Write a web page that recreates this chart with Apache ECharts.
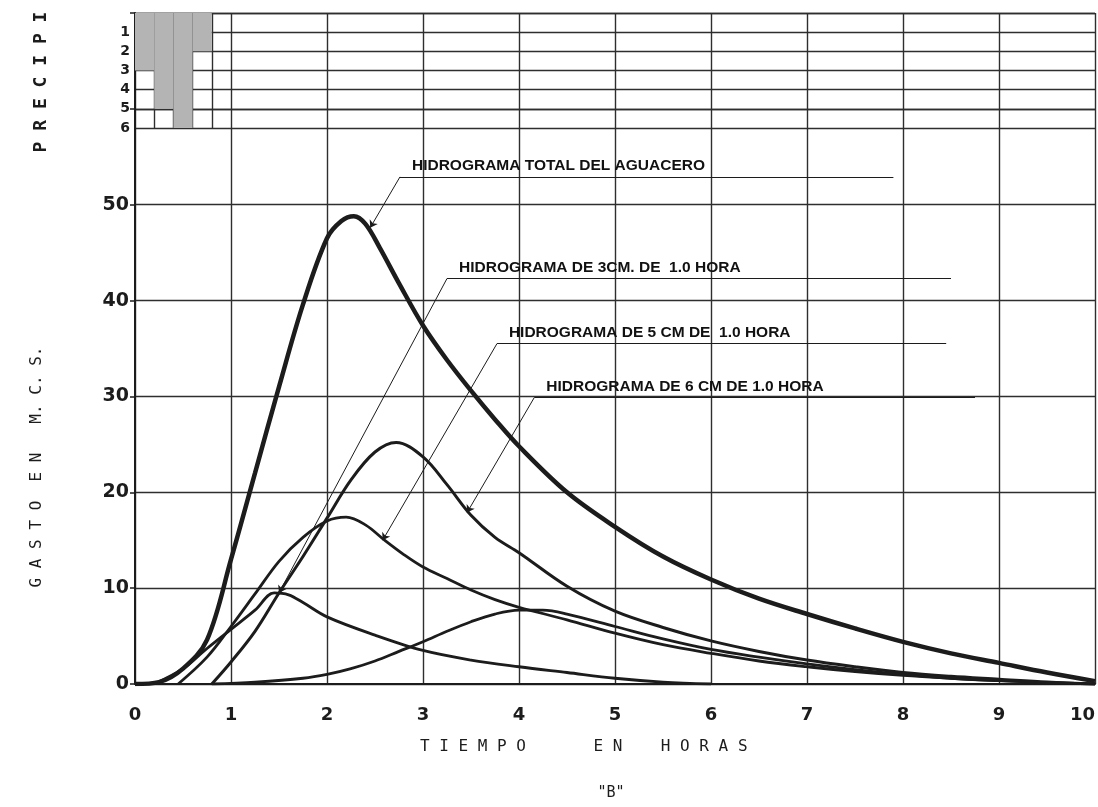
<!DOCTYPE html>
<html>
<head>
<meta charset="utf-8">
<script src="https://cdn.jsdelivr.net/npm/echarts@6/dist/echarts.min.js"></script>
<style>
html,body{margin:0;padding:0;background:#ffffff;}
#chart{width:1098px;height:807px;}
</style>
</head>
<body>
<div id="chart"></div>
<script>
// ---------- DATA ----------
const xTickLabels = ['0','1','2','3','4','5','6','7','8','9','10'];
const yTickLabels = ['0','10','20','30','40','50'];
const precipTickLabels = ['1','2','3','4','5','6'];

// Hyetograph (cm per 0.2 h interval)
const precipStart = [0, 0.2, 0.4, 0.6, 0.8];
const precipStep = 0.2;
const precipDepth = [3, 5, 6, 2, 0];

// Total hydrograph
const totalT = [0,0.25,0.5,0.75,1.0,1.25,1.5,1.75,2.0,2.15,2.28,2.4,2.55,2.75,3.0,3.25,3.5,3.75,4.0,4.5,5.0,5.5,6.0,6.5,7.0,7.5,8.0,8.5,9.0,9.5,10];
const totalQ = [0,0.2,1.6,4.6,13,22,31,39.6,46.5,48.3,48.8,48,45.5,41.8,37.4,33.8,30.6,27.6,24.8,20,16.4,13.3,10.9,8.9,7.3,5.8,4.4,3.2,2.2,1.2,0.3];

// Hydrograph of 3 cm
const h3T = [0.2,0.5,0.75,1.0,1.25,1.45,1.6,1.75,2.0,2.5,3.0,3.5,4.0,4.5,5.0,5.5,6.0];
const h3Q = [0,1.6,3.7,5.7,7.7,9.5,9.3,8.5,7.0,5.1,3.5,2.5,1.8,1.2,0.6,0.2,0];

// Hydrograph of 5 cm
const h5T = [0.45,0.75,1.0,1.25,1.5,1.75,2.0,2.2,2.4,2.6,2.8,3.0,3.25,3.5,3.75,4.0,4.5,5.0,5.5,6.0,6.5,7.0,7.5,8.0,8.5,9.0,9.5,10];
const h5Q = [0,2.8,6.0,9.4,12.8,15.3,17.0,17.4,16.6,15.0,13.5,12.2,11.0,9.8,8.8,8.0,6.7,5.3,4.1,3.2,2.4,1.8,1.3,0.9,0.6,0.35,0.15,0];

// Hydrograph of 6 cm
const h6T = [0.8,1.0,1.25,1.5,1.75,2.0,2.25,2.5,2.72,3.0,3.25,3.5,3.75,4.0,4.5,5.0,5.5,6.0,6.5,7.0,7.5,8.0,8.5,9.0,9.5,10];
const h6Q = [0,2.3,5.5,9.5,13.3,17.3,21.3,24.2,25.2,23.7,20.8,17.6,15.3,13.7,10.2,7.6,5.9,4.5,3.4,2.5,1.8,1.2,0.8,0.5,0.2,0];

// Hydrograph of 2 cm (last interval)
const h2T = [0.8,1.25,1.75,2.0,2.25,2.5,2.75,3.0,3.25,3.5,3.75,4.0,4.25,4.5,5.0,5.5,6.0,6.5,7.0,7.5,8.0,8.5,9.0,9.5,10];
const h2Q = [0,0.2,0.6,1.0,1.6,2.4,3.4,4.4,5.5,6.5,7.3,7.7,7.7,7.3,6.0,4.7,3.6,2.8,2.1,1.5,1.0,0.6,0.35,0.15,0];

// Annotation labels (in data units)
const annotTexts = ['HIDROGRAMA TOTAL DEL AGUACERO','HIDROGRAMA DE 3CM. DE  1.0 HORA','HIDROGRAMA DE 5 CM DE  1.0 HORA','HIDROGRAMA DE 6 CM DE 1.0 HORA'];
const annotLineY = [52.9, 42.3, 35.5, 29.9];
const annotLineX0 = [2.76, 3.25, 3.77, 4.16];
const annotLineX1 = [7.9, 8.5, 8.45, 8.75];
const annotTarget = [[2.45,47.6],[1.5,9.5],[2.58,15.0],[3.46,17.9]];

// ---------- CHART ----------
const pairs = (t, q) => t.map((v, i) => [v, q[i]]);
const ink = '#1c1c1c';
const gridInk = '#2e2e2e';

function annot(i) {
  return {
    silent: true,
    animation: false,
    symbol: 'none',
    lineStyle: { color: ink, width: 1, type: 'solid' },
    label: { show: false },
    data: [
      [
        { coord: [annotLineX0[i], annotLineY[i]],
          label: { show: true, position: 'insideStartTop', formatter: annotTexts[i],
                   color: '#111', fontFamily: 'Liberation Sans', fontWeight: 'bold', fontSize: 15.5,
                   distance: 3, padding: [0, 0, 0, 9] } },
        { coord: [annotLineX1[i], annotLineY[i]] }
      ],
      [
        { coord: [annotLineX0[i], annotLineY[i]], symbol: 'none' },
        { coord: annotTarget[i], symbol: 'arrow', symbolSize: 7 }
      ]
    ]
  };
}

const curveBase = { type: 'line', xAxisIndex: 0, yAxisIndex: 0, smooth: 0.35, symbol: 'none', animation: false, z: 4 };

const option = {
  backgroundColor: '#ffffff',
  animation: false,
  grid: [
    { left: 135, right: 3, top: 13, bottom: 123, outerBoundsMode: 'none', containLabel: false },
    { left: 135, right: 3, top: 13, height: 115, outerBoundsMode: 'none', containLabel: false }
  ],
  xAxis: [
    { gridIndex: 0, type: 'value', min: 0, max: 10, interval: 1,
      axisLine: { show: true, lineStyle: { color: ink, width: 2 } },
      axisTick: { show: false },
      axisLabel: { margin: 22, color: ink, fontFamily: 'DejaVu Sans', fontWeight: 'bold', fontSize: 18,
                   alignMaxLabel: 'right',
                   formatter: v => xTickLabels[Math.round(v)] ?? '' },
      splitLine: { show: true, lineStyle: { color: gridInk, width: 1.4 } } },
    { gridIndex: 1, type: 'value', min: 0, max: 10, show: false, splitLine: { show: false } }
  ],
  yAxis: [
    { gridIndex: 0, type: 'value', min: 0, max: 70, interval: 10,
      axisLine: { show: true, lineStyle: { color: ink, width: 2 } },
      axisTick: { show: true, length: 5, lineStyle: { color: ink, width: 1.5 } },
      axisLabel: { margin: 6, color: ink, fontFamily: 'DejaVu Sans', fontWeight: 'bold', fontSize: 19,
                   formatter: v => yTickLabels[Math.round(v / 10)] ?? '' },
      splitLine: { show: true, lineStyle: { color: gridInk, width: 1.4 } } },
    { gridIndex: 1, type: 'value', min: 0, max: 6, interval: 1, inverse: true,
      axisLine: { show: false }, axisTick: { show: false },
      axisLabel: { margin: 5, color: ink, fontFamily: 'DejaVu Sans', fontWeight: 'bold', fontSize: 14,
                   formatter: v => (v >= 1 ? precipTickLabels[Math.round(v) - 1] ?? '' : '') },
      splitLine: { show: true, lineStyle: { color: gridInk, width: 1.4 } } }
  ],
  series: [
    { type: 'line', xAxisIndex: 1, yAxisIndex: 1, data: [[0, 0]], symbol: 'none', lineStyle: { width: 0 }, z: 1,
      markLine: { silent: true, animation: false, symbol: 'none', label: { show: false },
                  lineStyle: { color: gridInk, width: 1.4, type: 'solid' },
                  data: precipStart.slice(1).map(s => ({ xAxis: s })) } },
    { type: 'custom', xAxisIndex: 1, yAxisIndex: 1, z: 5,
      data: precipStart.map((s, i) => [s, s + precipStep, precipDepth[i]]),
      encode: { x: [0, 1], y: 2 },
      renderItem: function (params, api) {
        const p0 = api.coord([api.value(0), 0]);
        const p1 = api.coord([api.value(1), api.value(2)]);
        return { type: 'rect',
                 shape: { x: p0[0], y: p0[1], width: p1[0] - p0[0], height: p1[1] - p0[1] },
                 style: { fill: '#b4b4b4' } };
      } },
    Object.assign({}, curveBase, { name: 'Total', data: pairs(totalT, totalQ),
      lineStyle: { color: ink, width: 4.5 }, markLine: annot(0) }),
    Object.assign({}, curveBase, { name: '3 cm', data: pairs(h3T, h3Q),
      lineStyle: { color: ink, width: 2.8 }, markLine: annot(1) }),
    Object.assign({}, curveBase, { name: '5 cm', data: pairs(h5T, h5Q),
      lineStyle: { color: ink, width: 2.8 }, markLine: annot(2) }),
    Object.assign({}, curveBase, { name: '6 cm', data: pairs(h6T, h6Q),
      lineStyle: { color: ink, width: 3 }, markLine: annot(3) }),
    Object.assign({}, curveBase, { name: '2 cm', data: pairs(h2T, h2Q),
      lineStyle: { color: ink, width: 2.8 } })
  ],
  graphic: [
    { type: 'text', x: 41, y: 82, rotation: Math.PI / 2,
      style: { text: 'P R E C I P I', fill: ink, font: 'bold 18px "DejaVu Sans Mono"', align: 'center', verticalAlign: 'middle' } },
    { type: 'text', x: 37, y: 467, rotation: Math.PI / 2,
      style: { text: 'G A S T O  E N   M. C. S.', fill: ink, font: '16px "DejaVu Sans Mono"', align: 'center', verticalAlign: 'middle' } },
    { type: 'text', x: 420, y: 747,
      style: { text: 'T I E M P O       E N    H O R A S', fill: ink, font: '16px "DejaVu Sans Mono"', align: 'left', verticalAlign: 'middle' } },
    { type: 'text', x: 611, y: 793,
      style: { text: '"B"', fill: ink, font: '15px "DejaVu Sans Mono"', align: 'center', verticalAlign: 'middle' } }
  ]
};

const chart = echarts.init(document.getElementById('chart'), null, { renderer: 'canvas' });
chart.setOption(option);
</script>
</body>
</html>
